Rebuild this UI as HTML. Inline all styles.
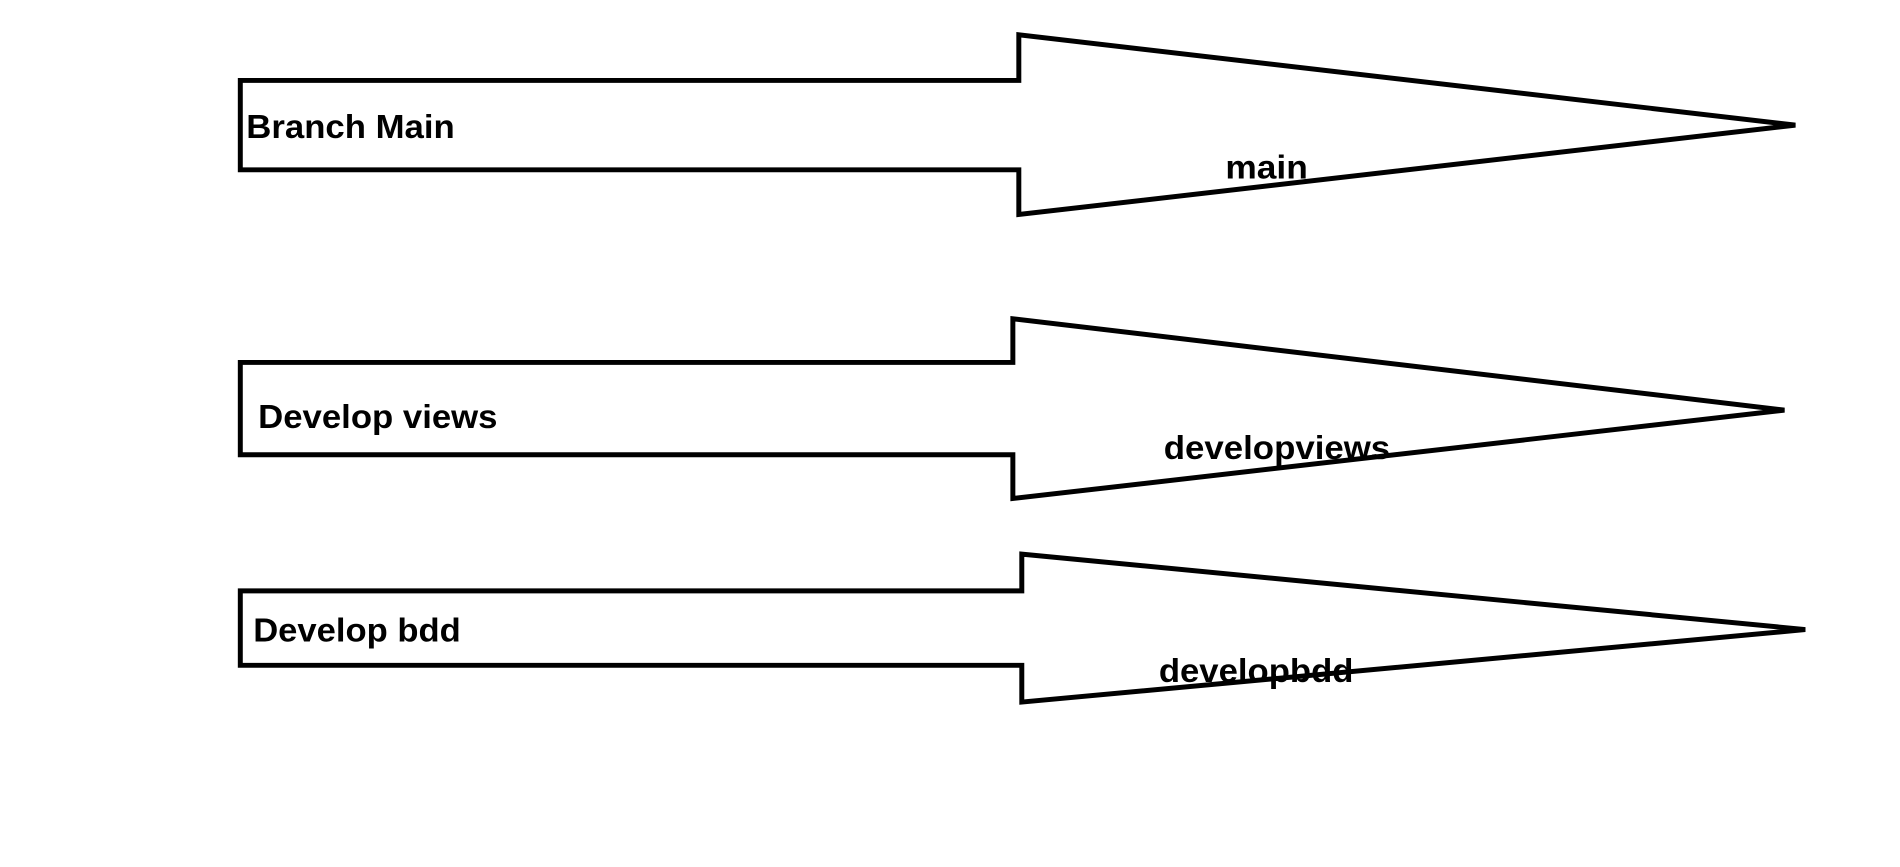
<!DOCTYPE html>
<html><head><meta charset="utf-8"><style>html,body{margin:0;padding:0;background:#fff}svg{display:block}</style></head>
<body>
<svg width="1900" height="867" viewBox="0 0 1900 867" xmlns="http://www.w3.org/2000/svg">
<g transform="scale(0.993)">
<g fill="none" stroke="#000" stroke-width="5" stroke-linejoin="miter">
<polygon points="242,81 1026,81 1026,35 1808,126 1026,216 1026,171 242,171"/>
<polygon points="242,365 1020,365 1020,321 1797,413 1020,502 1020,458 242,458"/>
<polygon points="242,595 1029,595 1029,558 1818,634 1029,707 1029,670 242,670"/>
</g>
<g font-family="Liberation Sans, sans-serif" font-weight="bold" font-size="34" fill="#000">
<text x="248" y="139" textLength="210" lengthAdjust="spacingAndGlyphs">Branch Main</text>
<text x="1234" y="180" textLength="83" lengthAdjust="spacingAndGlyphs">main</text>
<text x="260" y="431" textLength="241" lengthAdjust="spacingAndGlyphs">Develop views</text>
<text x="1172" y="462" textLength="228" lengthAdjust="spacingAndGlyphs">developviews</text>
<text x="255" y="646" textLength="209" lengthAdjust="spacingAndGlyphs">Develop bdd</text>
<text x="1167" y="687" textLength="196" lengthAdjust="spacingAndGlyphs">developbdd</text>
</g>
</g>
</svg>
</body></html>
